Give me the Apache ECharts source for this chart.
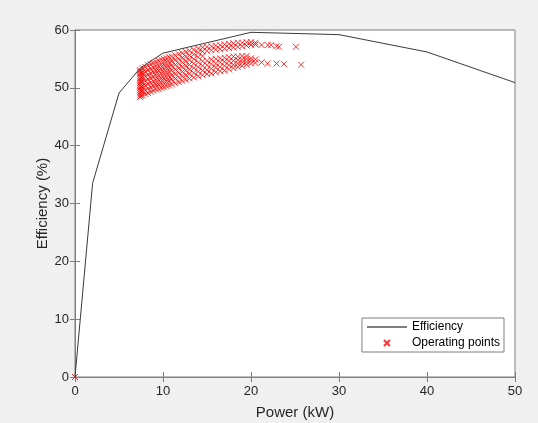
<!DOCTYPE html>
<html><head><meta charset="utf-8">
<script src="https://cdn.jsdelivr.net/npm/echarts@6/dist/echarts.min.js"></script>
<style>html,body{margin:0;padding:0;background:#f0f0f0;}#c{width:538px;height:423px;}</style>
</head><body><div id="c"></div>
<script>
const xTicks = [0, 10, 20, 30, 40, 50];
const yTicks = [0, 10, 20, 30, 40, 50, 60];
const efficiencyPower = [0, 2, 5, 7.4, 10, 20, 30, 40, 50];
const efficiencyValue = [0, 33.5, 49.1, 53.4, 56.0, 59.6, 59.2, 56.2, 50.9];
const opPower = [
 0,
 7.4,7.4,7.4,7.4,7.4,7.4,7.4,7.4,7.4,7.4,7.4,7.4,7.4,
 7.5,7.5,7.5,7.5,7.5,7.5,
 7.7,7.7,7.7,7.7,7.7,7.7,7.7,
 8.0,8.0,8.0,8.0,8.0,8.0,8.0,
 8.3,8.3,8.3,8.3,8.3,8.3,8.3,
 8.6,8.6,8.6,8.6,8.6,8.6,8.6,
 8.9,8.9,8.9,8.9,8.9,8.9,8.9,
 9.2,9.2,9.2,9.2,9.2,9.2,9.2,
 9.5,9.5,9.5,9.5,9.5,9.5,9.5,
 9.8,9.8,9.8,9.8,9.8,9.8,9.8,
 10.1,10.1,10.1,10.1,10.1,10.1,10.1,
 10.4,10.4,10.4,10.4,10.4,10.4,10.4,
 10.7,10.7,10.7,10.7,10.7,10.7,10.7,
 11.0,11.0,11.0,11.0,11.0,11.0,11.0,
 11.4,11.4,11.4,11.4,11.4,11.4,11.4,
 11.8,11.8,11.8,11.8,11.8,11.8,11.8,
 12.2,12.2,12.2,12.2,12.2,12.2,12.2,
 12.6,12.6,12.6,12.6,12.6,12.6,12.6,
 13.0,13.0,13.0,13.0,13.0,13.0,13.0,
 13.5,13.5,13.5,13.5,13.5,13.5,13.5,
 14.0,14.0,14.0,14.0,14.0,14.0,14.0,
 14.5,14.5,14.5,14.5,14.5,14.5,14.5,
 15.0,15.0,15.0,15.0,15.0,15.0,
 15.5,15.5,15.5,15.5,15.5,15.5,
 16.0,16.0,16.0,16.0,16.0,16.0,
 16.5,16.5,16.5,16.5,16.5,16.5,
 17.0,17.0,17.0,17.0,17.0,17.0,
 17.5,17.5,17.5,17.5,17.5,17.5,
 18.0,18.0,18.0,18.0,18.0,18.0,
 18.5,18.5,18.5,18.5,18.5,18.5,
 19.0,19.0,19.0,19.0,19.0,19.0,
 19.5,19.5,19.5,19.5,19.5,19.5,
 20.0,20.0,20.0,20.0,20.0,
 20.5,20.5,20.5,20.5,
 21.2,21.2,
 21.9,21.9,
 22.3,
 22.9,22.9,
 23.2,
 23.75,
 25.1,
 25.7
];
const opEfficiency = [
 0,
 48.4,48.8,49.2,49.6,50.0,50.4,50.8,51.2,51.6,52.0,52.4,52.8,53.1,
 48.6,49.4,50.2,51.0,51.8,52.6,
 48.7,49.5,50.3,51.1,51.9,52.7,53.4,
 48.9,49.6,50.4,51.2,52.0,52.8,53.6,
 49.1,49.9,50.7,51.5,52.3,53.1,53.9,
 49.3,50.1,50.9,51.7,52.5,53.3,54.1,
 49.5,50.3,51.1,51.9,52.7,53.5,54.3,
 49.7,50.5,51.3,52.1,52.9,53.7,54.5,
 49.8,50.6,51.4,52.2,53.0,53.8,54.7,
 50.0,50.8,51.6,52.4,53.2,54.0,54.9,
 50.1,50.9,51.7,52.5,53.3,54.1,55.0,
 50.3,51.1,51.9,52.7,53.5,54.3,55.1,
 50.4,51.2,52.0,52.8,53.6,54.4,55.3,
 50.6,51.4,52.2,53.0,53.8,54.6,55.4,
 50.8,51.6,52.4,53.2,54.0,54.8,55.6,
 51.0,51.8,52.6,53.4,54.2,55.0,55.8,
 51.2,52.0,52.8,53.6,54.4,55.2,56.0,
 51.4,52.2,53.0,53.8,54.6,55.4,56.2,
 51.6,52.4,53.2,54.0,54.8,55.6,56.4,
 51.8,52.6,53.4,54.2,55.0,55.8,56.6,
 52.0,52.8,53.6,54.4,55.3,56.1,56.8,
 52.2,53.0,53.8,54.6,55.5,56.3,57.0,
 52.4,53.1,53.9,54.7,56.4,57.1,
 52.5,53.3,54.1,54.9,56.5,57.2,
 52.7,53.5,54.2,55.0,56.6,57.3,
 52.9,53.6,54.4,55.1,56.7,57.4,
 53.0,53.8,54.5,55.2,56.8,57.5,
 53.2,53.9,54.6,55.3,56.9,57.6,
 53.4,54.0,54.7,55.4,57.0,57.7,
 53.6,54.2,54.8,55.4,57.1,57.8,
 53.8,54.4,54.9,55.5,57.2,57.8,
 54.0,54.5,55.0,55.5,57.3,57.9,
 54.2,54.7,55.1,57.4,57.9,
 54.3,54.9,57.5,57.8,
 54.4,57.4,
 54.2,57.4,
 57.4,
 54.2,57.2,
 57.1,
 54.1,
 57.1,
 54.0
];
const seriesNames = ['Efficiency', 'Operating points'];

const effData = efficiencyPower.map((p, i) => [p, efficiencyValue[i]]);
const opData = opPower.map((p, i) => [p, opEfficiency[i]]);
const crossPath = 'path://M0,0L10,10M10,0L0,10';
const lineIcon = 'path://M0,0L40,0L40,1L0,1Z';
const axisGray = '#7f7f7f';
const textCol = '#262626';
const font = 'Liberation Sans, Arial, Helvetica, sans-serif';

const chart = echarts.init(document.getElementById('c'), null, {renderer: 'canvas'});
chart.setOption({
  backgroundColor: '#f0f0f0',
  animation: false,
  textStyle: {fontFamily: font},
  grid: {left: 75, right: 23, top: 30, bottom: 46, containLabel: false, outerBoundsMode: 'none',
         show: true, backgroundColor: '#ffffff', borderColor: axisGray, borderWidth: 1},
  legend: {
    right: 34, top: 318, orient: 'vertical', backgroundColor: '#ffffff', borderColor: axisGray, borderWidth: 1,
    padding: [3, 4, 3, 5], itemGap: 4, itemWidth: 40, itemHeight: 6,
    textStyle: {fontSize: 12, color: '#000', fontFamily: font},
    data: [
      {name: seriesNames[0], icon: lineIcon, itemStyle: {color: '#000', borderWidth: 0}},
      {name: seriesNames[1], icon: crossPath}
    ]
  },
  xAxis: [
    {type: 'value', min: xTicks[0], max: xTicks[xTicks.length - 1], interval: 10, position: 'bottom',
     name: 'Power (kW)', nameLocation: 'middle', nameGap: 28, nameMoveOverlap: false,
     nameTextStyle: {fontSize: 15, color: textCol, fontFamily: font},
     axisLine: {show: true, lineStyle: {color: axisGray}}, axisTick: {show: true, inside: true, length: 5, lineStyle: {color: axisGray}},
     axisLabel: {fontSize: 13, color: textCol, margin: 8, fontFamily: font}, splitLine: {show: false}},
    {type: 'value', min: xTicks[0], max: xTicks[xTicks.length - 1], interval: 10, position: 'top',
     axisLine: {show: true, lineStyle: {color: axisGray}}, axisTick: {show: true, inside: true, length: 5, lineStyle: {color: axisGray}},
     axisLabel: {show: false}, splitLine: {show: false}}
  ],
  yAxis: [
    {type: 'value', min: yTicks[0], max: yTicks[yTicks.length - 1], interval: 10, position: 'left',
     name: 'Efficiency (%)', nameLocation: 'middle', nameGap: 25, nameRotate: 90, nameMoveOverlap: false,
     nameTextStyle: {fontSize: 15, color: textCol, fontFamily: font},
     axisLine: {show: true, lineStyle: {color: axisGray}}, axisTick: {show: true, inside: true, length: 5, lineStyle: {color: axisGray}},
     axisLabel: {fontSize: 13, color: textCol, margin: 6, fontFamily: font}, splitLine: {show: false}},
    {type: 'value', min: yTicks[0], max: yTicks[yTicks.length - 1], interval: 10, position: 'right',
     axisLine: {show: true, lineStyle: {color: axisGray}}, axisTick: {show: true, inside: true, length: 5, lineStyle: {color: axisGray}},
     axisLabel: {show: false}, splitLine: {show: false}}
  ],
  series: [
    {name: seriesNames[0], type: 'line', data: effData, symbol: 'none', xAxisIndex: 0, yAxisIndex: 0,
     lineStyle: {color: '#3a3a3a', width: 1}, itemStyle: {color: '#3a3a3a'}, z: 3},
    {name: seriesNames[1], type: 'scatter', data: opData, symbol: crossPath, symbolSize: 6, xAxisIndex: 0, yAxisIndex: 0,
     itemStyle: {color: 'rgba(0,0,0,0)', borderColor: '#ff0000', borderWidth: 1}, z: 2}
  ]
});
</script></body></html>
